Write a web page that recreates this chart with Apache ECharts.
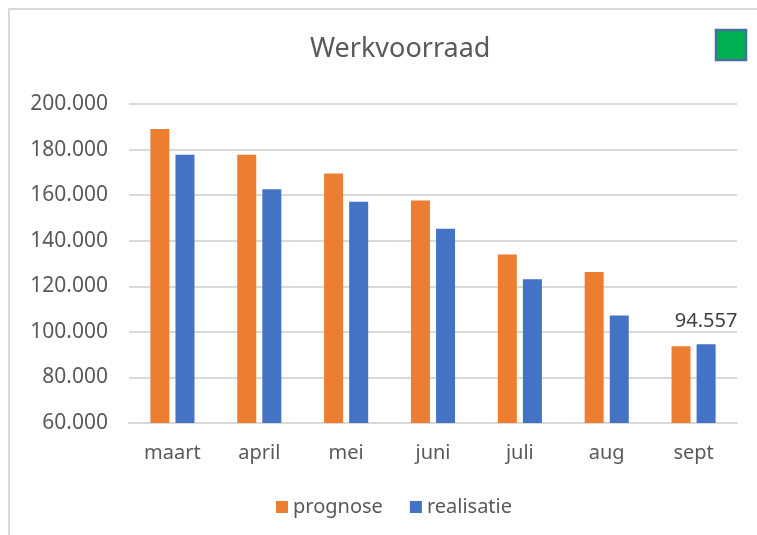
<!DOCTYPE html>
<html>
<head>
<meta charset="utf-8">
<script src="https://cdn.jsdelivr.net/npm/echarts@6/dist/echarts.min.js"></script>
<style>
  html, body { margin: 0; padding: 0; background: #fff; }
  #chart { width: 757px; height: 535px; }
</style>
</head>
<body>
<div id="chart"></div>
<script>
  // maanden en waarden
  var maanden = ['maart', 'april', 'mei', 'juni', 'juli', 'aug', 'sept'];
  var prognose = [189000, 177700, 169500, 157600, 133900, 126300, 93700];
  var realisatie = [177700, 162600, 157100, 145200, 123100, 107200, 94557];

  var tekstKleur = '#595959';
  var font = 'Noto Sans';

  function nlGetal(v) {
    return String(Math.round(v)).replace(/\B(?=(\d{3})+(?!\d))/g, '.');
  }

  var myChart = echarts.init(document.getElementById('chart'));

  var option = {
    backgroundColor: '#ffffff',
    animation: false,
    title: {
      text: 'Werkvoorraad',
      left: 305,
      top: 31,
      textStyle: { fontFamily: font, fontSize: 27, fontWeight: 'normal', color: tekstKleur }
    },
    legend: {
      bottom: 13,
      left: 271,
      icon: 'rect',
      itemWidth: 12,
      itemHeight: 12,
      itemGap: 27,
      textStyle: { fontFamily: font, fontSize: 20, color: tekstKleur },
      data: ['prognose', 'realisatie']
    },
    grid: { left: 129, right: 20, top: 104, bottom: 112, containLabel: false },
    xAxis: {
      type: 'category',
      data: maanden,
      axisTick: { show: false },
      axisLine: { lineStyle: { color: '#d9d9d9', width: 2 } },
      axisLabel: { fontFamily: font, fontSize: 20, color: tekstKleur, margin: 20 }
    },
    yAxis: {
      type: 'value',
      min: 60000,
      max: 200000,
      interval: 20000,
      axisLine: { show: false },
      axisTick: { show: false },
      splitLine: { lineStyle: { color: '#d9d9d9', width: 2 } },
      axisLabel: {
        fontFamily: font, fontSize: 21, color: tekstKleur, margin: 21,
        formatter: nlGetal
      }
    },
    series: [
      {
        name: 'prognose',
        type: 'bar',
        data: prognose,
        barWidth: 19,
        barGap: '32%',
        itemStyle: { color: '#ED7D31' }
      },
      {
        name: 'realisatie',
        type: 'bar',
        data: realisatie.map(function (v, i) {
          if (i === realisatie.length - 1) {
            return {
              value: v,
              label: {
                show: true, position: 'top', distance: 13,
                fontFamily: font, fontSize: 20, color: '#404040',
                formatter: function (p) { return nlGetal(p.value); }
              }
            };
          }
          return v;
        }),
        barWidth: 19,
        itemStyle: { color: '#4472C4' }
      }
    ],
    graphic: [
      {
        type: 'rect',
        shape: { x: 9, y: 9, width: 800, height: 600 },
        style: { fill: 'none', stroke: '#d9d9d9', lineWidth: 2 },
        silent: true
      },
      {
        type: 'rect',
        shape: { x: 716, y: 30, width: 30, height: 30 },
        style: { fill: '#00B050', stroke: '#41719C', lineWidth: 2.5 },
        silent: true
      }
    ]
  };

  myChart.setOption(option);
</script>
</body>
</html>
